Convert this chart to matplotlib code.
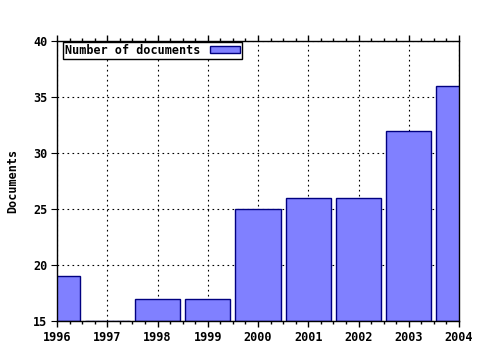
import matplotlib
matplotlib.use("Agg")
import matplotlib.pyplot as plt
from matplotlib.ticker import MultipleLocator

years = [1996, 1997, 1998, 1999, 2000, 2001, 2002, 2003, 2004]
documents = [19, 15, 17, 17, 25, 26, 26, 32, 36]
series_label = "Number of documents"
y_label = "Documents"

plt.rcParams['font.family'] = ['DejaVu Sans Mono']
plt.rcParams['font.weight'] = 'bold'
plt.rcParams['font.size'] = 8.5

fig = plt.figure(figsize=(4.8, 3.5), dpi=100)
ax = fig.add_axes([57/480, 1 - 321/350, (459-57)/480, (321-41)/350])

ax.bar(years, [d - 15 for d in documents], bottom=15, width=0.9,
       color='#8080ff', edgecolor='#000080', linewidth=1, label=series_label, zorder=2)

ax.set_xlim(1996, 2004)
ax.set_ylim(15, 40)
ax.set_xticks(years)
ax.set_xticklabels([str(y) for y in years], fontweight='bold')
ax.set_yticks([15, 20, 25, 30, 35, 40])
ax.xaxis.set_minor_locator(MultipleLocator(0.25))
ax.tick_params(axis='x', which='major', direction='out', top=True, bottom=True, length=4, width=1)
ax.tick_params(axis='x', which='minor', direction='out', top=True, bottom=True, length=2, width=1)
ax.tick_params(axis='y', direction='out', length=4, left=True, right=False)
ax.tick_params(axis='both', labelsize=8.5, pad=3)
for lbl in ax.get_xticklabels() + ax.get_yticklabels():
    lbl.set_fontweight('bold')

ax.grid(True, which='major', color='black', linestyle=(0, (1.5, 3)), linewidth=0.8, zorder=1)
ax.set_axisbelow(True)
for s in ax.spines.values():
    s.set_color('black')
    s.set_linewidth(1)

ax.set_ylabel(y_label, fontweight='bold', labelpad=10)

leg = ax.legend(loc='upper left', bbox_to_anchor=(0.015, 0.996), borderaxespad=0,
                markerfirst=False, frameon=True, fancybox=False,
                edgecolor='black', framealpha=1, borderpad=0.15, handlelength=2.6,
                handleheight=0.6, handletextpad=0.8,
                prop={'weight': 'bold', 'size': 8.5})
leg.get_frame().set_linewidth(1)

fig.savefig('out.png', dpi=100)
